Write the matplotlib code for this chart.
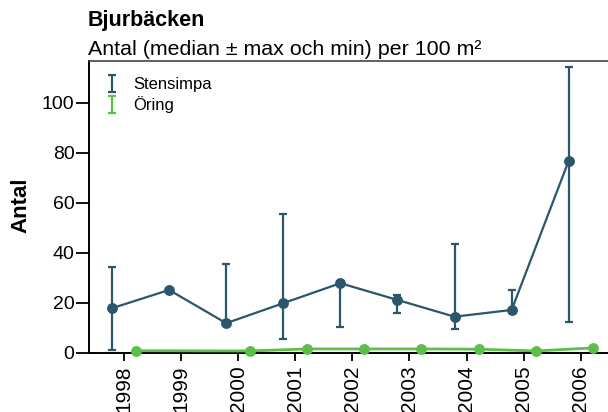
import numpy as np
import matplotlib
matplotlib.use('Agg')
import matplotlib.pyplot as plt

plt.rcParams['font.family'] = ['Liberation Sans', 'DejaVu Sans']

# data
years = ['1998', '1999', '2000', '2001', '2002', '2003', '2004', '2005', '2006']
stensimpa_median = [17.8, 25.1, 11.8, 19.8, 27.8, 21.1, 14.4, 17.1, 76.8]
stensimpa_max = [34.4, 25.1, 35.5, 55.5, 28.3, 23.1, 43.5, 25.1, 114.2]
stensimpa_min = [1.1, 25.1, 11.8, 5.4, 10.2, 15.8, 9.5, 17.1, 12.3]
oring_median = [0.8, np.nan, 0.7, 1.5, 1.5, 1.5, 1.4, 0.7, 1.9]
oring_max = [0.8, np.nan, 0.7, 1.5, 1.5, 1.5, 1.4, 0.7, 1.9]
oring_min = [0.8, np.nan, 0.7, 1.5, 1.5, 1.5, 1.4, 0.7, 1.9]

blue = '#2c566b'
green = '#5cbf4a'
dodge = 0.21

fig = plt.figure(figsize=(6.08, 4.12), dpi=100)
ax = fig.add_axes([89 / 608, 59.3 / 412, 1 - 89 / 608, (352.7 - 60.7) / 412])

x = np.arange(len(years))

def draw(xpos, med, lo, hi, color, label, lw):
    med = np.asarray(med, dtype=float)
    lo = np.asarray(lo, dtype=float)
    hi = np.asarray(hi, dtype=float)
    ok = ~np.isnan(med)
    ax.errorbar(xpos[ok], med[ok], yerr=[med[ok] - lo[ok], hi[ok] - med[ok]],
                fmt='none', ecolor=color, elinewidth=1.6, capsize=2.6,
                capthick=1.6, label=label, zorder=2)
    ax.plot(xpos[ok], med[ok], color=color, lw=lw, marker='o', ms=6.8,
            zorder=3, clip_on=False)

draw(x + dodge, oring_median, oring_min, oring_max, green, 'Öring', 2.0)
draw(x - dodge, stensimpa_median, stensimpa_min, stensimpa_max, blue, 'Stensimpa', 1.6)

ax.set_xlim(-0.613, 8.478)
ax.set_ylim(0, 116.8)
ax.set_xticks(x)
ax.set_xticklabels(years, rotation=90, fontsize=15)
ax.set_yticks([0, 20, 40, 60, 80, 100])
ax.tick_params(axis='y', labelsize=14, length=9.5, width=1.3, pad=1)
ax.tick_params(axis='x', length=5.5, width=1.3, pad=3.5)

ax.spines['right'].set_visible(False)
ax.spines['left'].set_linewidth(1.4)
ax.spines['bottom'].set_linewidth(1.4)
ax.spines['top'].set_color('#444444')
ax.spines['top'].set_linewidth(1.2)

handles, labels = ax.get_legend_handles_labels()
order = [labels.index('Stensimpa'), labels.index('Öring')]
ax.legend([handles[i] for i in order], [labels[i] for i in order],
          loc='upper left', bbox_to_anchor=(0.0, 0.995), frameon=False,
          fontsize=12, handlelength=1.0, handletextpad=0.75, labelspacing=0.25)

fig.text(88 / 608, 1 - 26 / 412, 'Bjurbäcken', fontsize=15.5, fontweight='bold',
         va='baseline', ha='left')
fig.text(88 / 608, 1 - 55 / 412, 'Antal (median ± max och min) per 100 m²',
         fontsize=15.4, va='baseline', ha='left')
fig.text(20.7 / 608, 1 - 205 / 412, 'Antal', rotation=90, fontsize=16,
         fontweight='bold', ha='center', va='center')

fig.savefig('out.png', dpi=100)
